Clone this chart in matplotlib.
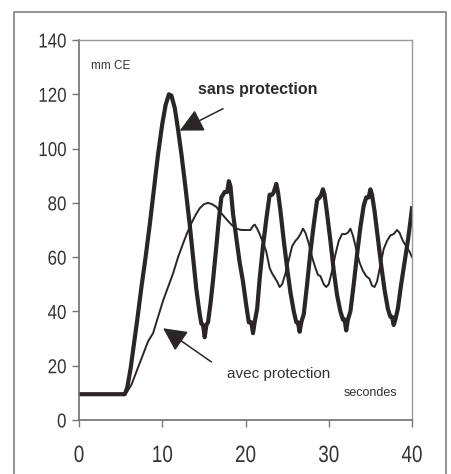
import matplotlib
matplotlib.use("Agg")
import matplotlib.pyplot as plt
from matplotlib.lines import Line2D
from matplotlib.patheffects import AbstractPathEffect
from matplotlib.transforms import Affine2D

# ---- data ----
t_sans = [0, 5.5, 5.8, 6.2, 6.6, 7.0, 7.5, 8.0, 8.5, 9.0, 9.5, 10.0, 10.4, 10.8, 11.1, 11.5,
          11.9, 12.3, 12.7, 13.0, 13.3, 13.7, 14.1, 14.5, 14.7, 14.9, 15.1, 15.3, 15.5, 15.8,
          16.1, 16.5, 16.8, 17.1, 17.5, 17.8, 18.0, 18.2, 18.5, 18.9, 19.3, 19.7, 20.1, 20.4,
          20.7, 20.9, 21.1, 21.4, 21.7, 22.1, 22.5, 22.9, 23.2, 23.4, 23.7, 23.9, 24.2, 24.6,
          25.0, 25.4, 25.8, 26.1, 26.3, 26.5, 26.7, 27.0, 27.4, 27.8, 28.2, 28.6, 28.9, 29.1,
          29.3, 29.5, 29.8, 30.2, 30.6, 31.0, 31.4, 31.7, 31.9, 32.1, 32.3, 32.6, 33.0, 33.4,
          33.8, 34.2, 34.5, 34.8, 35.0, 35.2, 35.5, 35.9, 36.3, 36.7, 37.1, 37.4, 37.6, 37.8,
          38.0, 38.3, 38.7, 39.1, 39.5, 39.8, 40.0]
v_sans = [9.5, 9.5, 12, 19, 28, 37, 49, 60, 72, 85, 98, 109, 116, 120, 119.5, 115,
          107, 98, 88, 80, 72, 60, 48, 39, 35.5, 35, 30.5, 35, 36, 43,
          51.5, 64, 74, 82, 84, 84, 88, 86, 76, 67, 58, 51, 42, 36,
          36, 32, 36, 41, 52, 64, 74, 83, 83, 84, 87, 84, 77, 66,
          56, 47, 40, 36, 36, 32.5, 36, 39, 50, 62, 72, 81, 82, 83,
          85, 83, 76, 66, 55, 46, 40, 37, 37, 33, 37, 40, 50, 61,
          71, 79, 82, 82, 85, 83, 77, 67, 57, 48, 41, 38, 38, 35,
          37, 41, 50, 58, 66, 73, 78]

t_avec = [0, 5.5, 5.8, 6.3, 6.8, 7.3, 7.8, 8.3, 8.9, 9.5, 10.1, 10.7, 11.3, 11.9, 12.5,
          13.0, 13.5, 14.0, 14.5, 15.0, 15.5, 16.0, 16.5, 17.0, 17.7, 18.3, 18.9, 19.5,
          20.1, 20.6, 20.9, 21.1, 21.4, 21.7, 22.1, 22.5, 22.9, 23.2, 23.5, 23.8, 24.1,
          24.4, 24.8, 25.2, 25.6, 26.0, 26.3, 26.6, 26.9, 27.2, 27.6, 28.0, 28.4, 28.7,
          29.0, 29.4, 29.7, 30.0, 30.4, 30.8, 31.2, 31.6, 32.0, 32.3, 32.6, 32.9, 33.3,
          33.7, 34.1, 34.5, 34.9, 35.2, 35.5, 35.8, 36.2, 36.6, 37.0, 37.4, 37.8, 38.2,
          38.5, 38.9, 39.3, 39.7, 40.0]
v_avec = [9.5, 9.5, 10.5, 13, 17, 21, 25, 29, 32, 38, 44, 49, 54, 60, 65,
          69, 72.5, 75.5, 78, 79.5, 80, 79.5, 78.5, 76.5, 74, 72, 70.5, 70,
          70, 70, 71.5, 72, 70.5, 68.5, 65.5, 62, 56, 54, 52.5, 51, 49,
          50, 54, 59, 64, 66, 67, 68.5, 70.5, 69, 65, 60, 56, 53.5,
          53, 50, 49, 50, 55, 61, 66, 68.5, 68.5, 69, 70.5, 68, 63,
          58, 55, 53, 52, 49.5, 49, 51, 57, 63, 66, 68, 68.5, 70,
          69, 66, 64, 62, 60]

x_ticks = [0, 10, 20, 30, 40]
y_ticks = [0, 20, 40, 60, 80, 100, 120, 140]

label_sans = "sans protection"
label_avec = "avec protection"
unit_y = "mm CE"
unit_x = "secondes"


class Squeeze(AbstractPathEffect):
    """Draw text glyphs horizontally condensed (the scanned figure uses narrow digits)."""

    def __init__(self, sx=0.82, anchor=0.5):
        super().__init__()
        self.sx = sx
        self.anchor = anchor

    def draw_path(self, renderer, gc, tpath, affine, rgbFace=None):
        ext = tpath.get_extents()
        cx = ext.x0 + self.anchor * (ext.x1 - ext.x0)
        tr = Affine2D().translate(-cx, 0).scale(self.sx, 1).translate(cx, 0) + affine
        renderer.draw_path(gc, tpath, tr, rgbFace)


# ---- style ----
ink = "#2b2626"
txtcol = "#333333"
fam = ["Liberation Sans", "DejaVu Sans"]

fig = plt.figure(figsize=(4.51, 4.74), dpi=100)
fig.patch.set_facecolor("white")
ax = fig.add_axes([79 / 451, 1 - 420 / 474, (412 - 79) / 451, (420 - 40) / 474])

ax.plot(t_avec, v_avec, color=ink, lw=1.4, solid_joinstyle="round")
ax.plot(t_sans, v_sans, color=ink, lw=3.0, solid_joinstyle="round")

ax.set_xlim(0, 40)
ax.set_ylim(0, 140)
ax.set_xticks(x_ticks)
ax.set_yticks(y_ticks)
xl = ax.set_xticklabels([str(v) for v in x_ticks], family=fam, fontsize=17, color=txtcol)
yl = ax.set_yticklabels([str(v) for v in y_ticks], family=fam, fontsize=14.5, color=txtcol)
for t in xl:
    t.set_path_effects([Squeeze(0.8, 0.5)])
for t in yl:
    t.set_path_effects([Squeeze(0.84, 1.0)])
ax.tick_params(axis="y", direction="out", length=5, width=1.0, color="#777777", pad=4)
ax.tick_params(axis="x", direction="out", length=5, width=1.0, color="#777777", pad=13)

for s in ["left", "bottom"]:
    ax.spines[s].set_color("#6f6f6f")
    ax.spines[s].set_linewidth(1.2)
for s in ["top", "right"]:
    ax.spines[s].set_color("#9a9a9a")
    ax.spines[s].set_linewidth(1.0)

ax.text(1.45, 129.4, unit_y, family=fam, fontsize=8.5, color=txtcol,
        ha="left", va="baseline")
ax.text(14.25, 120.2, label_sans, family=fam, fontsize=11.5, fontweight="bold",
        color="#2f2a2a", ha="left", va="baseline")
ax.text(17.8, 15.4, label_avec, family=fam, fontsize=11, color=txtcol,
        ha="left", va="baseline")
ax.text(31.8, 8.8, unit_x, family=fam, fontsize=9, color=txtcol,
        ha="left", va="baseline")

arrow_kw = dict(arrowstyle="-|>,head_length=1.2,head_width=0.6", color=ink, lw=1.1,
                mutation_scale=12, shrinkA=0, shrinkB=0)
ax.annotate("", xy=(12.1, 106.6), xytext=(17.3, 114.7), arrowprops=arrow_kw)
ax.annotate("", xy=(10.1, 33.8), xytext=(15.9, 21.4), arrowprops=arrow_kw)

# outer frame (open at the bottom)
W, H = 451, 474
fx = [14 / W, 14 / W, 446 / W, 446 / W]
fy = [0, 1 - 12 / H, 1 - 12 / H, 0]
fig.add_artist(Line2D(fx, fy, transform=fig.transFigure, color="#8a8a8a", lw=1.3))

fig.savefig("out.png", dpi=100, facecolor="white")
